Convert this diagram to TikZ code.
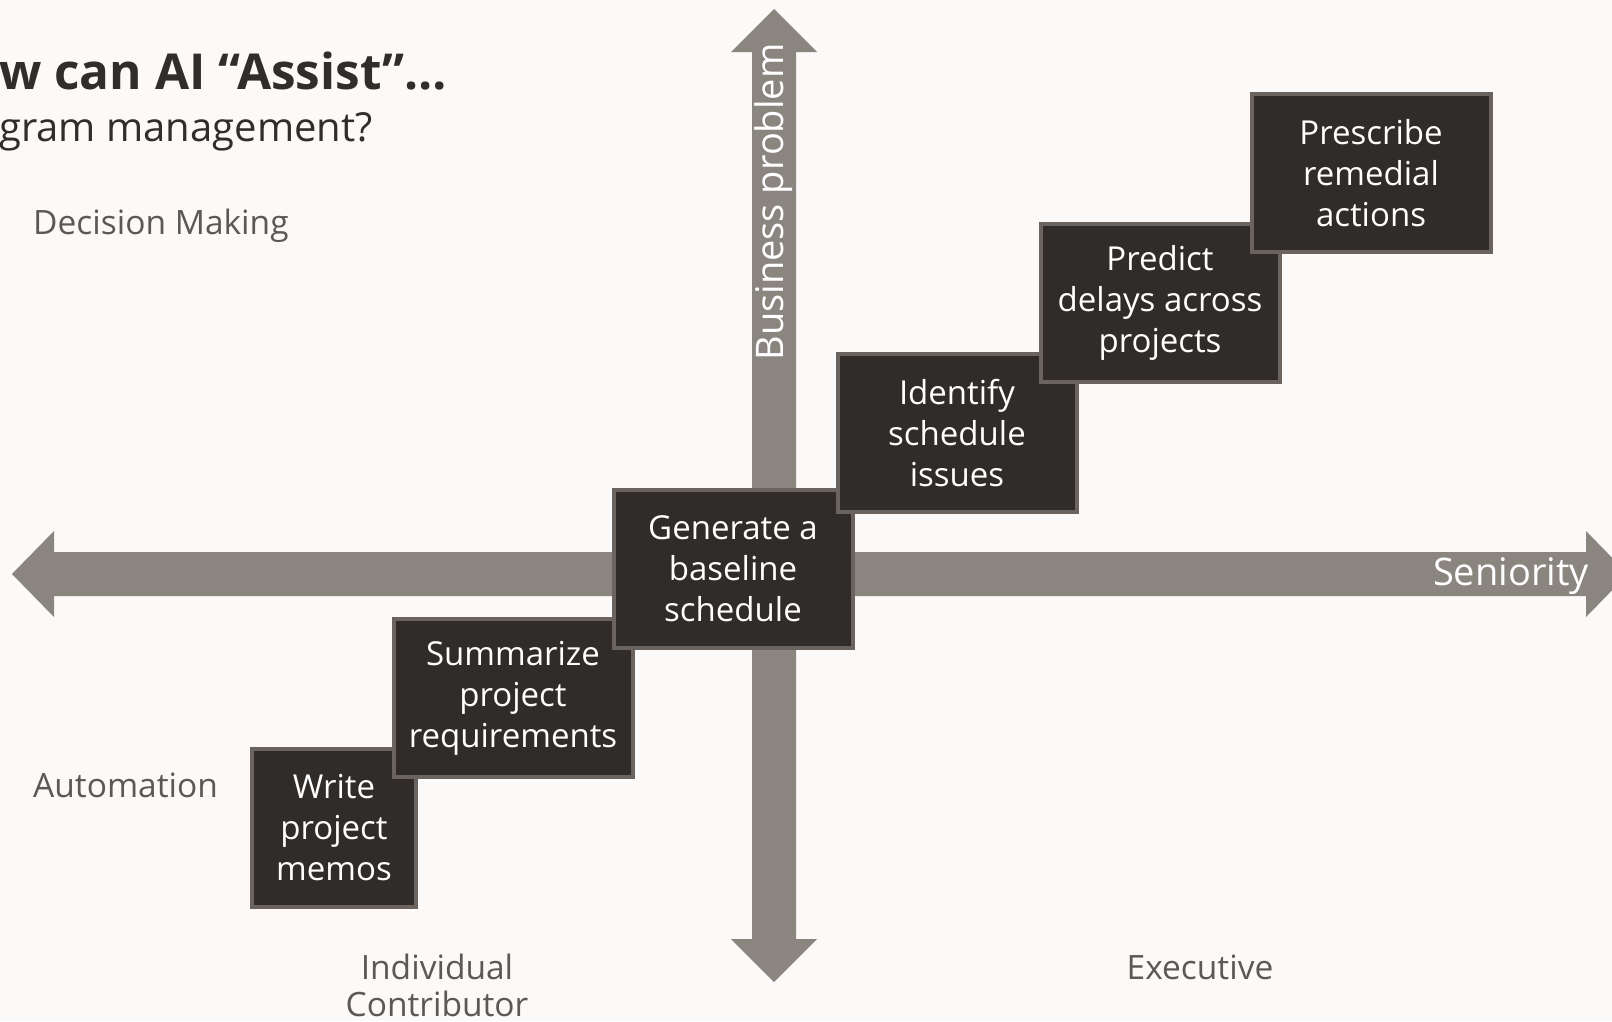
\documentclass[tikz,border=0pt]{standalone}
\usepackage{fontspec}
\setmainfont{Open Sans}
\definecolor{paper}{HTML}{FBFAF8}
\definecolor{axisgray}{HTML}{8A857F}
\definecolor{boxfill}{HTML}{302C29}
\definecolor{boxline}{HTML}{6B635D}
\definecolor{labelgray}{HTML}{5B5856}
\definecolor{titleink}{HTML}{312D2A}

\begin{document}
\begin{tikzpicture}[x=1pt, y=-1pt,
    task/.style={draw=boxline, line width=4pt, fill=boxfill, text=white, align=center, inner sep=0pt, minimum width=239pt, minimum height=158pt, font=\fontsize{33}{41}\selectfont},
    side/.style={text=labelgray, inner sep=0pt, font=\fontsize{33.5}{37}\selectfont},
    axislabel/.style={text=white, inner sep=0pt, font=\fontsize{38}{44}\selectfont}]
  \fill[paper] (0,0) rectangle (1612,1021);
  \useasboundingbox (0,0) rectangle (1612,1021);
  \fill[axisgray] (12,574) -- (54,531) -- (54,552) -- (1586,552) -- (1586,531) -- (1628,574)
    -- (1586,617) -- (1586,596) -- (54,596) -- (54,617) -- cycle;
  \fill[axisgray] (774,9) -- (817,52) -- (796,52) -- (796,939) -- (817,939) -- (774,982)
    -- (731,939) -- (752,939) -- (752,52) -- (731,52) -- cycle;
  \node[axislabel, anchor=base east] (seniority) at (1589,585) {Seniority};
  \node[axislabel, rotate=90, anchor=base] (business) at (783,202) {Business problem};
  \node[anchor=base west, inner sep=0pt, text=titleink, font=\fontsize{49.5}{56}\selectfont\bfseries] (title) at (-1,89) {w can AI “Assist”…};
  \node[anchor=base west, inner sep=0pt, text=titleink, font=\fontsize{40}{48}\selectfont] (subtitle) at (-1,141) {gram management?};
  \node[side, anchor=base west] (decision) at (33,234) {Decision Making};
  \node[side, anchor=base west] (automation) at (33,797) {Automation};
  \node[side, align=center] (individual) at (437,985) {Individual\\Contributor};
  \node[side, anchor=base] (executive) at (1200,979) {Executive};
  \node[task, minimum width=164pt] (memos) at (334,828) {Write\\project\\memos};
  \node[task] (summarize) at (513,698) {Summarize\\project\\requirements};
  \node[task] (baseline) at (733,569) {Generate a\\baseline\\schedule};
  \node[task] (issues) at (957,433) {Identify\\schedule\\issues};
  \node[task] (delays) at (1160,303) {Predict\\delays across\\projects};
  \node[task] (remedial) at (1371,173) {Prescribe\\remedial\\actions};
\end{tikzpicture}
\end{document}
